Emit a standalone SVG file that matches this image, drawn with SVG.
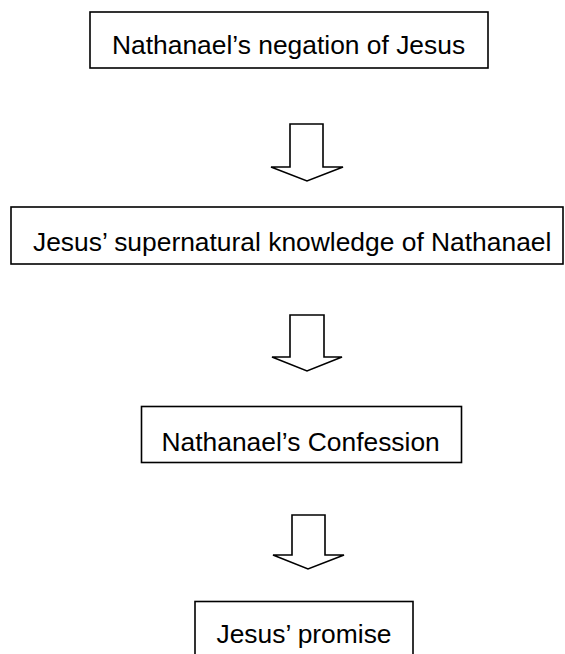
<svg xmlns="http://www.w3.org/2000/svg" width="565" height="654" viewBox="0 0 565 654">
<style>
.box{fill:#fff;stroke:#000;stroke-width:1.6}
.arrow{fill:#fff;stroke:#000;stroke-width:1.6;stroke-linejoin:miter}
.lbl{font-family:"Liberation Sans",Arial,sans-serif;font-size:26.4px;fill:#000}
</style>
<defs>
<clipPath id="c1"><rect x="0" y="0" width="565" height="59"/></clipPath>
<clipPath id="c2"><rect x="0" y="200" width="565" height="56"/></clipPath>
</defs>
<rect width="565" height="654" fill="#fff"/>
<g id="connectors">
<polygon class="arrow" points="290,124 323,124 323,167 343,167 307,181 271,167 290,167"/>
<polygon class="arrow" points="290,315 324,315 324,357 342,357 307,371 272,357 290,357"/>
<polygon class="arrow" points="292,515 325,515 325,555 344,555 308,569 273,555 292,555"/>
</g>
<g id="node1">
<rect class="box" x="90" y="12" width="398" height="56"/>
<text class="lbl" x="112" y="53.5" clip-path="url(#c1)">Nathanael’s negation of Jesus</text>
</g>
<g id="node2">
<rect class="box" x="11" y="207" width="552" height="57"/>
<text class="lbl" x="33" y="251" clip-path="url(#c2)">Jesus’ supernatural knowledge of Nathanael</text>
</g>
<g id="node3">
<rect class="box" x="141.5" y="406.5" width="320" height="56"/>
<text class="lbl" x="161.5" y="450.5">Nathanael’s Confession</text>
</g>
<g id="node4">
<rect class="box" x="195" y="601.5" width="218" height="57"/>
<text class="lbl" x="216.5" y="643">Jesus’ promise</text>
</g>
</svg>
